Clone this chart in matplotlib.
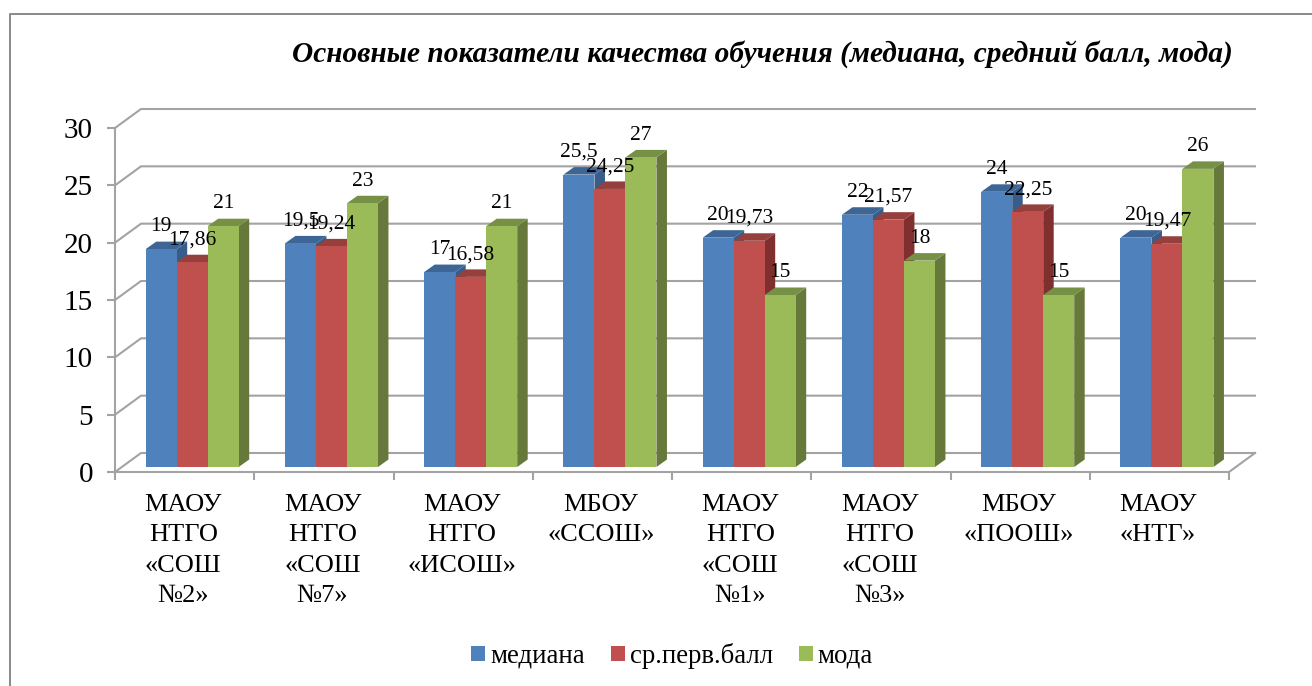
#!/usr/bin/env python3
"""Grouped pseudo-3D columns: median, mean and mode per school."""
import matplotlib
matplotlib.use('Agg')
import matplotlib.pyplot as plt
from matplotlib.lines import Line2D
from matplotlib.patches import Patch, Polygon

plt.rcParams['font.family'] = ['Liberation Serif', 'DejaVu Serif']

W, H = 1312, 686
AX_L, AX_R, AX_TOP, AX_BOT = 115, 1229, 128, 472    # axes box in pixels

schools = ['МАОУ\nНТГО\n«СОШ\n№2»', 'МАОУ\nНТГО\n«СОШ\n№7»', 'МАОУ\nНТГО\n«ИСОШ»', 'МБОУ\n«ССОШ»',
           'МАОУ\nНТГО\n«СОШ\n№1»', 'МАОУ\nНТГО\n«СОШ\n№3»', 'МБОУ\n«ПООШ»', 'МАОУ\n«НТГ»']
median = [19, 19.5, 17, 25.5, 20, 22, 24, 20]
mean_score = [17.86, 19.24, 16.58, 24.25, 19.73, 21.57, 22.25, 19.47]
mode = [21, 23, 21, 27, 15, 18, 15, 26]
labels_median = ['19', '19,5', '17', '25,5', '20', '22', '24', '20']
labels_mean = ['17,86', '19,24', '16,58', '24,25', '19,73', '21,57', '22,25', '19,47']
labels_mode = ['21', '23', '21', '27', '15', '18', '15', '26']
yticks = [0, 5, 10, 15, 20, 25, 30]

series = [
    ('медиана', median, labels_median, '#4F81BD', '#3D6596', '#385D8A'),
    ('ср.перв.балл', mean_score, labels_mean, '#C0504D', '#95403D', '#7F2F2D'),
    ('мода', mode, labels_mode, '#9BBB59', '#769145', '#66793A'),
]

fig = plt.figure(figsize=(W / 100, H / 100), dpi=100)
ax = fig.add_axes([AX_L / W, 1 - AX_BOT / H, (AX_R - AX_L) / W, (AX_BOT - AX_TOP) / H])
ax.set_xlim(0, len(schools))
ax.set_ylim(0, 30)

px_x = len(schools) / (AX_R - AX_L)     # data units per pixel
px_y = 30 / (AX_BOT - AX_TOP)
GRID = '#A3A3A3'

# back wall + floor
wall_dx, wall_dy = 26 * px_x, 19 * px_y
for v in yticks:
    ax.plot([0, wall_dx, len(schools) + wall_dx], [v, v + wall_dy, v + wall_dy], color=GRID, lw=1.5,
            clip_on=False, zorder=1, solid_joinstyle='miter')
ax.plot([len(schools), len(schools) + wall_dx], [0, wall_dy], color=GRID, lw=1.5, clip_on=False, zorder=1)

# columns, drawn left to right so each one covers the side of the previous
bar_w = 31 * px_x
first = 30.7 * px_x
base = 5 * px_y
depth_x, depth_y = 10.5 * px_x, 7.5 * px_y
for i in range(len(schools)):
    for j, (name, vals, labs, front, top, side) in enumerate(series):
        x0 = i + first + j * bar_w
        x1 = x0 + bar_w
        y1 = vals[i] + base
        ax.add_patch(Polygon([(x1, base), (x1 + depth_x, base + depth_y), (x1 + depth_x, y1 + depth_y), (x1, y1)],
                             fc=side, ec='none', clip_on=False, zorder=3))
        ax.add_patch(Polygon([(x0, y1), (x0 + depth_x, y1 + depth_y), (x1 + depth_x, y1 + depth_y), (x1, y1)],
                             fc=top, ec='none', clip_on=False, zorder=3))
        ax.add_patch(Polygon([(x0, base), (x1, base), (x1, y1), (x0, y1)],
                             fc=front, ec='none', clip_on=False, zorder=3))
for i in range(len(schools)):
    for j, (name, vals, labs, front, top, side) in enumerate(series):
        x0 = i + first + j * bar_w
        ax.annotate(labs[i], (x0 + bar_w / 2, vals[i] + base), xytext=(0, 16), textcoords='offset points',
                    ha='center', va='center', fontsize=15.5, color='black', zorder=5)

for s in ('top', 'right'):
    ax.spines[s].set_visible(False)
for s in ('left', 'bottom'):
    ax.spines[s].set_color(GRID)
    ax.spines[s].set_linewidth(1.5)
ax.patch.set_visible(False)

ax.set_yticks(yticks)
ax.tick_params(axis='y', length=5.8, width=1.5, color=GRID, pad=10, labelsize=21)
ax.set_xticks(range(len(schools) + 1))
ax.set_xticklabels([])
ax.tick_params(axis='x', which='major', length=5.8, width=1.5, color=GRID)
ax.set_xticks([i + 0.49 for i in range(len(schools))], schools, minor=True)
ax.tick_params(axis='x', which='minor', length=0, pad=16, labelsize=19)
for t in ax.get_xticklabels(minor=True):
    t.set_linespacing(1.48)

fig.text(762 / W, 1 - 54 / H, 'Основные показатели качества обучения (медиана, средний балл, мода)',
         ha='center', va='center', fontsize=21.2, fontweight='bold', fontstyle='italic')

handles = [Patch(fc=s[3], ec='none', label=s[0]) for s in series]
fig.legend(handles=handles, loc='center', bbox_to_anchor=(672 / W, 1 - 656 / H), ncol=3, frameon=False,
           fontsize=19.4, handlelength=0.52, handleheight=0.52, handletextpad=0.19, columnspacing=0.96)

# outer chart frame: only left and top show, cut off by the picture edges
frame_x = [10 / W, 10 / W, 1]
frame_y = [0, 1 - 14 / H, 1 - 14 / H]
fig.add_artist(Line2D(frame_x, frame_y, color='#8C8C8C', lw=1.44))

fig.savefig('out.png', dpi=100)
